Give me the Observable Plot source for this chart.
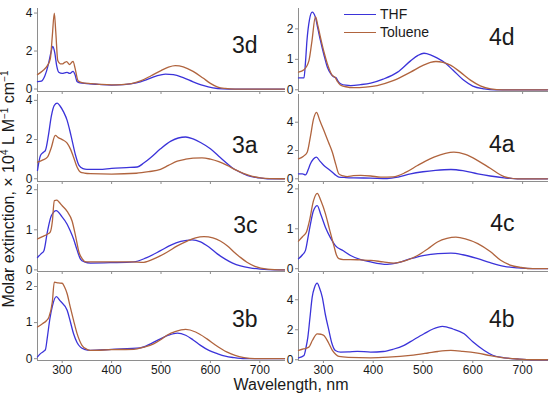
<!DOCTYPE html>
<html>
<head>
<meta charset="utf-8">
<script src="https://cdn.jsdelivr.net/npm/d3@7"></script>
<script src="https://cdn.jsdelivr.net/npm/@observablehq/plot@0.6"></script>
<style>
  html, body { margin: 0; padding: 0; background: #fff; }
  #chart { position: relative; width: 550px; height: 396px; overflow: hidden;
           font-family: "Liberation Sans", Arial, sans-serif; color: #1a1a1a; }
  #chart svg { position: absolute; overflow: visible; max-width: none; }
  #chart svg text { fill: #1a1a1a; }
  .ttl { position: absolute; white-space: nowrap; font-size: 16px; line-height: 16px; }
  .leg { position: absolute; font-size: 14px; white-space: nowrap; }
  .legline { position: absolute; height: 0; border-top: 1.5px solid; width: 32px; }
</style>
</head>
<body>
<div id="chart"></div>
<script>
// ---- data: [wavelength nm, molar extinction x10^4] ----
const thf3d = [[250,0.39],[258,0.42],[265,0.7],[272,1.3],[277,1.9],[281,2.24],[285,1.9],[289,1.2],[293,0.88],[300,0.82],[305,0.85],[310,0.88],[315,0.82],[322,0.93],[326,0.75],[330,0.4],[336,0.32],[350,0.29],[375,0.24],[400,0.21],[425,0.23],[450,0.32],[470,0.48],[490,0.68],[509,0.79],[525,0.76],[545,0.6],[565,0.38],[585,0.19],[605,0.06],[625,0.01],[650,0],[750,0]];
const tol3d = [[250,0.76],[260,0.95],[270,1.23],[276,1.6],[280,2.8],[284,4.0],[287,3.0],[291,1.5],[296,1.33],[300,1.32],[305,1.4],[309,1.44],[315,1.29],[319,1.4],[322,1.46],[326,1.1],[332,0.44],[340,0.34],[360,0.29],[380,0.24],[400,0.22],[420,0.23],[440,0.28],[460,0.44],[480,0.7],[500,0.97],[515,1.15],[529,1.23],[545,1.17],[565,0.93],[585,0.58],[600,0.3],[615,0.1],[630,0.03],[650,0],[750,0]];
const thf3a = [[250,0.43],[256,1.19],[262,1.35],[266,1.45],[272,2.2],[278,3.2],[284,3.75],[290,3.86],[296,3.7],[303,3.4],[310,2.98],[315,2.5],[320,1.96],[327,1.2],[334,0.68],[342,0.52],[350,0.48],[375,0.48],[400,0.53],[430,0.57],[452,0.6],[465,0.8],[480,1.1],[499,1.53],[520,1.92],[535,2.08],[550,2.13],[565,2.03],[580,1.85],[600,1.53],[620,1.08],[635,0.75],[647,0.51],[665,0.28],[681,0.12],[700,0.04],[716,0],[750,0]];
const tol3a = [[250,0.85],[260,0.95],[270,1.1],[278,1.6],[286,2.21],[292,2.1],[300,2.0],[310,1.82],[317,1.5],[323,1.1],[330,0.6],[337,0.34],[345,0.29],[357,0.26],[400,0.24],[450,0.28],[475,0.36],[499,0.48],[515,0.68],[533,0.9],[550,1.0],[565,1.05],[583,1.07],[600,1.0],[617,0.87],[634,0.68],[650,0.47],[668,0.26],[685,0.12],[701,0.05],[720,0.01],[750,0]];
const thf3c = [[250,0.31],[257,0.4],[263,0.48],[270,0.95],[278,1.35],[288,1.48],[298,1.35],[310,1.14],[316,0.98],[323,0.77],[330,0.5],[337,0.27],[345,0.2],[357,0.17],[400,0.18],[445,0.2],[470,0.3],[499,0.48],[520,0.62],[540,0.71],[563,0.75],[580,0.7],[597,0.57],[614,0.4],[630,0.27],[645,0.17],[661,0.1],[680,0.05],[701,0.02],[730,0],[750,0]];
const tol3c = [[250,0.77],[260,0.83],[270,0.89],[276,0.95],[280,1.2],[284,1.73],[289,1.74],[293,1.7],[300,1.6],[310,1.46],[320,1.22],[327,0.85],[334,0.44],[341,0.27],[348,0.2],[400,0.2],[440,0.2],[465,0.19],[490,0.3],[512,0.44],[533,0.6],[553,0.72],[570,0.8],[587,0.83],[605,0.8],[620,0.72],[634,0.6],[650,0.42],[662,0.3],[674,0.19],[690,0.09],[715,0.02],[750,0]];
const thf3b = [[250,0.05],[256,0.14],[262,0.2],[266,0.25],[270,0.6],[275,1.1],[280,1.45],[288,1.72],[296,1.6],[310,1.34],[316,1.05],[323,0.69],[330,0.45],[337,0.32],[345,0.26],[357,0.23],[400,0.26],[458,0.3],[480,0.42],[499,0.55],[515,0.65],[533,0.71],[550,0.65],[565,0.52],[580,0.37],[597,0.23],[614,0.14],[630,0.07],[647,0.03],[670,0],[750,0]];
const tol3b = [[250,0.88],[260,0.97],[268,1.05],[273,1.15],[280,1.57],[284,2.12],[292,2.1],[300,2.09],[305,1.98],[310,1.8],[316,1.45],[323,1.06],[330,0.7],[340,0.37],[350,0.26],[357,0.23],[400,0.25],[445,0.26],[465,0.32],[485,0.41],[500,0.53],[512,0.65],[530,0.76],[550,0.81],[570,0.74],[593,0.55],[610,0.38],[634,0.18],[650,0.09],[668,0.03],[690,0],[750,0]];
const thf4d = [[250,0.39],[261,0.39],[264,0.9],[267,1.62],[272,2.3],[277.5,2.55],[284,2.38],[289,2.0],[294,1.62],[301,1.15],[308,0.74],[315,0.52],[321,0.42],[325,0.4],[330,0.27],[334.5,0.2],[345,0.15],[355,0.14],[375,0.17],[395,0.22],[420,0.35],[449,0.58],[475,0.95],[490,1.13],[502,1.2],[515,1.15],[528,1.05],[542,0.91],[560,0.65],[582,0.31],[600,0.12],[623,0.03],[645,0],[750,0]];
const tol4d = [[250,0.58],[261,0.66],[271,0.96],[277,1.6],[284,2.4],[289,2.1],[294,1.73],[301,1.25],[308,0.85],[318,0.47],[323,0.42],[328,0.28],[334,0.16],[345,0.1],[361,0.07],[385,0.09],[408,0.14],[440,0.3],[475,0.58],[500,0.8],[515,0.9],[526,0.93],[540,0.9],[556,0.8],[575,0.58],[596,0.31],[615,0.13],[636,0.03],[660,0],[750,0]];
const thf4a = [[250,0.35],[258,0.35],[264,0.28],[270,0.7],[274,1.06],[280,1.4],[286,1.53],[293,1.25],[301,0.94],[310,0.7],[318,0.47],[325,0.25],[331,0.12],[345,0.09],[361,0.07],[395,0.05],[428,0.02],[450,0.12],[475,0.35],[500,0.5],[525,0.6],[556,0.66],[580,0.58],[610,0.35],[635,0.2],[663,0.07],[690,0],[750,0]];
const tol4a = [[250,1.41],[260,1.6],[267.5,1.88],[274,3.0],[280,4.2],[286,4.7],[293,4.1],[301,3.41],[310,2.6],[318,1.88],[325,1.0],[331,0.35],[340,0.2],[348,0.16],[360,0.22],[375,0.24],[395,0.2],[415,0.12],[440,0.14],[465,0.45],[489,0.94],[505,1.25],[522,1.53],[545,1.8],[562,1.88],[585,1.72],[610,1.29],[635,0.75],[663,0.16],[690,0],[750,0]];
const thf4c = [[250,0.25],[258,0.35],[264,0.46],[270,0.85],[274,1.12],[280,1.45],[287.6,1.58],[295,1.35],[304,1.04],[314,0.78],[324,0.58],[340,0.45],[354.6,0.33],[375,0.23],[395,0.17],[428,0.11],[450,0.15],[475,0.25],[500,0.33],[530,0.38],[556,0.39],[580,0.35],[610,0.25],[635,0.15],[663,0.06],[690,0.02],[720,0],[750,0]];
const tol4c = [[250,0.69],[258,0.8],[266,0.92],[272,1.2],[280,1.7],[287.6,1.89],[295,1.7],[304,1.38],[312,1.0],[321,0.58],[326,0.35],[331,0.25],[340,0.23],[354.6,0.23],[375,0.22],[395,0.21],[420,0.17],[442,0.14],[465,0.2],[489,0.33],[510,0.5],[529,0.67],[548,0.76],[566,0.79],[585,0.75],[610,0.63],[635,0.43],[656,0.21],[675,0.09],[697,0.03],[720,0],[750,0]];
const thf4b = [[250,0.13],[261,0.29],[265,0.8],[268.8,1.51],[273,2.8],[277.5,4.18],[282,4.8],[287.6,5.11],[292,4.8],[297.7,4.18],[304,3.0],[311,1.96],[317,1.1],[324,0.62],[334.5,0.51],[350,0.52],[368,0.56],[395,0.51],[420,0.55],[440,0.7],[462,0.96],[482,1.35],[502,1.73],[520,2.05],[539,2.22],[560,2.05],[582.6,1.73],[600,1.2],[623,0.62],[640,0.3],[663,0.13],[690,0.05],[720,0],[750,0]];
const tol4b = [[250,0.62],[260,0.72],[270.8,0.84],[278,1.3],[287.6,1.73],[295,1.7],[301,1.62],[310,1.15],[318,0.62],[325,0.35],[331,0.22],[350,0.16],[395,0.13],[430,0.17],[475,0.29],[510,0.45],[530,0.55],[556,0.62],[580,0.56],[609.6,0.44],[635,0.28],[663,0.13],[690,0.05],[720,0],[750,0]];

const xTicks = [300, 400, 500, 600, 700];
const seriesNames = ["THF", "Toluene"];
const seriesColors = ["#3b33d9", "#b0643e"];

// ---- layout (styles/positions) ----
const panels = [
  {name: "3d", thf: thf3d, tol: tol3d, col: 0, top: 8,   axis: 91,  domain: [-0.13, 4.24], ticks: [0,2,4], dy: 28.5},
  {name: "3a", thf: thf3a, tol: tol3a, col: 0, top: 94,  axis: 181, domain: [-0.14, 4.3],  ticks: [0,2,4], dy: 42.5},
  {name: "3c", thf: thf3c, tol: tol3c, col: 0, top: 184, axis: 271, domain: [-0.04, 2.13], ticks: [0,1,2], dy: 31.8},
  {name: "3b", thf: thf3b, tol: tol3b, col: 0, top: 273, axis: 360, domain: [-0.05, 2.36], ticks: [0,1,2], dy: 37.5, bottom: true},
  {name: "4d", thf: thf4d, tol: tol4d, col: 1, top: 8,   axis: 91,  domain: [-0.056, 2.67], ticks: [0,1,2], dy: 20.5},
  {name: "4a", thf: thf4a, tol: tol4a, col: 1, top: 94,  axis: 181, domain: [-0.19, 5.96], ticks: [0,2,4], dy: 41.5},
  {name: "4c", thf: thf4c, tol: tol4c, col: 1, top: 184, axis: 271, domain: [-0.07, 2.11], ticks: [0,1,2], dy: 30.5},
  {name: "4b", thf: thf4b, tol: tol4b, col: 1, top: 273, axis: 360, domain: [-0.05, 5.75], ticks: [0,2,4], dy: 37.5, bottom: true}
];
const cols = [
  {left: 0,   width: 290, ml: 37, mr: 6,  labelDx: -27},
  {left: 260, width: 290, ml: 38, mr: 3,  labelDx: -33}
];

const chart = document.getElementById("chart");

for (const p of panels) {
  const c = cols[p.col];
  const mt = 4, mb = p.bottom ? 26 : 5;
  const height = (p.axis - p.top) + mt + mb;
  const rows = [
    ...p.thf.map(([w, v]) => ({w, v, s: seriesNames[0]})),
    ...p.tol.map(([w, v]) => ({w, v, s: seriesNames[1]}))
  ];
  const svg = Plot.plot({
    width: c.width, height,
    marginLeft: c.ml, marginRight: c.mr, marginTop: mt, marginBottom: mb,
    style: {background: "transparent", overflow: "visible", color: "#8e8e8e",
            fontFamily: "'Liberation Sans', Arial, sans-serif", fontSize: "12px"},
    x: {domain: [250, 750], ticks: xTicks, tickSize: 3, tickPadding: 2, label: null, line: true,
        tickFormat: p.bottom ? (d => String(d)) : (() => "")},
    y: {domain: p.domain, ticks: p.ticks, tickSize: 3, tickPadding: 2, label: null, line: true,
        tickFormat: d => String(d)},
    color: {domain: seriesNames, range: seriesColors},
    marks: [
      Plot.line(rows, {x: "w", y: "v", z: "s", stroke: "s", strokeWidth: 1.3, curve: "monotone-x"}),
      Plot.text([p.name], {frameAnchor: "top-right", text: d => d, dx: c.labelDx, dy: p.dy,
                           textAnchor: "end", fontSize: 23})
    ]
  });
  svg.style.left = c.left + "px";
  svg.style.top = (p.top - mt) + "px";
  chart.appendChild(svg);
}

// legend
const legendItems = [
  {label: seriesNames[0], color: seriesColors[0], y: 15},
  {label: seriesNames[1], color: seriesColors[1], y: 33}
];
for (const it of legendItems) {
  const ln = document.createElement("div");
  ln.className = "legline";
  ln.style.left = "344px"; ln.style.top = (it.y - 1) + "px"; ln.style.borderColor = it.color;
  chart.appendChild(ln);
  const tx = document.createElement("div");
  tx.className = "leg";
  tx.textContent = it.label;
  tx.style.left = "380px"; tx.style.top = (it.y - 9) + "px";
  chart.appendChild(tx);
}

// axis titles
const yt = document.createElement("div");
yt.className = "ttl";
yt.innerHTML = "Molar extinction, × 10<sup style='font-size:10px;line-height:0'>4</sup> L M<sup style='font-size:10px;line-height:0'>−1</sup> cm<sup style='font-size:10px;line-height:0'>−1</sup>";
yt.style.left = "9px"; yt.style.top = "189px";
yt.style.transform = "translate(-50%, -50%) rotate(-90deg)";
chart.appendChild(yt);

const xt = document.createElement("div");
xt.className = "ttl";
xt.textContent = "Wavelength, nm";
xt.style.left = "291px"; xt.style.top = "385px";
xt.style.transform = "translate(-50%, -50%)";
chart.appendChild(xt);
</script>
</body>
</html>
